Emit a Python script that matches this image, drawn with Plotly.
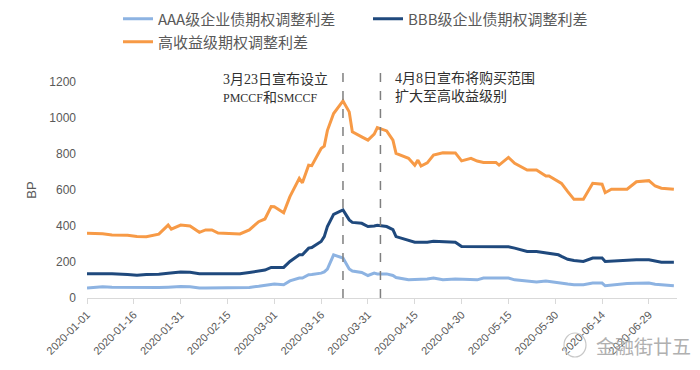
import plotly.graph_objects as go

dates = [
    "2020-01-01", "2020-01-06", "2020-01-09", "2020-01-14", "2020-01-17", "2020-01-20",
    "2020-01-24", "2020-01-27", "2020-01-28", "2020-01-31", "2020-02-03", "2020-02-06",
    "2020-02-08", "2020-02-10", "2020-02-12", "2020-02-16", "2020-02-19", "2020-02-22",
    "2020-02-25", "2020-02-27", "2020-02-29", "2020-03-01", "2020-03-04", "2020-03-06",
    "2020-03-09", "2020-03-10", "2020-03-12", "2020-03-13", "2020-03-16", "2020-03-17",
    "2020-03-18", "2020-03-20", "2020-03-23", "2020-03-25", "2020-03-26", "2020-03-29",
    "2020-03-31", "2020-04-02", "2020-04-03", "2020-04-06", "2020-04-08", "2020-04-09",
    "2020-04-13", "2020-04-15", "2020-04-16", "2020-04-17", "2020-04-19", "2020-04-21",
    "2020-04-24", "2020-04-28", "2020-04-30", "2020-05-03", "2020-05-05", "2020-05-07",
    "2020-05-11", "2020-05-12", "2020-05-15", "2020-05-17", "2020-05-21", "2020-05-24",
    "2020-05-27", "2020-05-28", "2020-05-31", "2020-06-01", "2020-06-03", "2020-06-05",
    "2020-06-08", "2020-06-11", "2020-06-14", "2020-06-15", "2020-06-17", "2020-06-22",
    "2020-06-25", "2020-06-29", "2020-07-01", "2020-07-03", "2020-07-07",
]

hy = [
    360, 357, 350, 348, 342, 340,
    355, 405, 382, 405, 400, 365,
    378, 378, 361, 356, 356, 378,
    424, 439, 508, 507, 474, 563,
    665, 640, 738, 735, 831, 844,
    930, 1025, 1095, 1034, 923, 895,
    877, 910, 947, 928, 877, 803,
    776, 738, 766, 733, 751, 794,
    807, 806, 762, 776, 761, 753,
    753, 738, 781, 748, 711, 711,
    678, 678, 650, 637, 591, 548,
    548, 637, 632, 585, 604, 604,
    646, 652, 622, 610, 604,
]

bbb = [
    135, 135, 135, 130, 127, 130,
    132, 138, 140, 145, 143, 135,
    135, 135, 135, 135, 135, 142,
    150, 155, 170, 170, 170, 203,
    240, 240, 277, 280, 314, 341,
    397, 465, 489, 434, 420, 415,
    397, 400, 404, 397, 380, 341,
    319, 310, 310, 310, 310, 315,
    312, 310, 286, 286, 286, 286,
    285, 283, 285, 277, 258, 258,
    250, 245, 240, 231, 215, 208,
    203, 222, 222, 203, 205, 212,
    212, 212, 205, 199, 199,
]

aaa = [
    55, 62, 60, 58, 58, 58,
    58, 60, 62, 64, 62, 55,
    55, 55, 55, 55, 55, 59,
    65, 70, 79, 78, 74, 95,
    111, 111, 129, 130, 138, 145,
    161, 240, 222, 161, 150, 142,
    125, 138, 134, 134, 125, 114,
    101, 101, 101, 101, 105, 111,
    101, 106, 104, 101, 101, 111,
    111, 111, 111, 101, 92, 89,
    95, 92, 85, 83, 78, 74,
    74, 83, 83, 68, 72, 80,
    82, 83, 76, 72, 68,
]

series_names = ["AAA级企业债期权调整利差", "BBB级企业债期权调整利差", "高收益级期权调整利差"]
event_dates = ["2020-03-23", "2020-04-04"]
event_texts = [
    "3月23日宣布设立<br><span style='font-size:12px'>PMCCF</span>和<span style='font-size:12px'>SMCCF</span>",
    "4月8日宣布将购买范围<br>扩大至高收益级别",
]

colors = ["#8db3e2", "#1f497d", "#f79a46"]
legend_ids = ["legend", "legend", "legend2"]
grey = "#595959"

# plot-area geometry (pixels)
L, R, T, B = 87, 23, 82, 72
PW, PH = 700 - L - R, 370 - T - B


def px_x(x):
    return (x - L) / PW


def px_y(y):
    return (370 - B - y) / PH


fig = go.Figure()
for name, vals, c, lg in zip(series_names, [aaa, bbb, hy], colors, legend_ids):
    fig.add_trace(go.Scatter(x=dates, y=vals, mode="lines", name=name, legend=lg,
                             line=dict(color=c, width=3)))

for d in event_dates:
    fig.add_shape(type="line", xref="x", yref="paper", x0=d, x1=d, y0=0, y1=px_y(66),
                  line=dict(color="#7f7f7f", width=1.5, dash="dash"))

ann_font = dict(family="Liberation Serif, Noto Sans CJK SC", size=14, color="#303030")
fig.add_annotation(x=px_x(221), xref="paper", y=px_y(88), yref="paper", xanchor="left",
                   yanchor="middle", text=event_texts[0], showarrow=False, align="left",
                   font=ann_font)
fig.add_annotation(x=px_x(393), xref="paper", y=px_y(87), yref="paper", xanchor="left",
                   yanchor="middle", text=event_texts[1], showarrow=False, align="left",
                   font=ann_font)

# watermark
fig.add_annotation(x=px_x(693), xref="paper", y=px_y(345), yref="paper", text="金融街廿五",
                   showarrow=False, xanchor="right", yanchor="middle",
                   font=dict(family="Noto Sans CJK SC", size=19, color="#b0b0b0"))
fig.add_shape(type="circle", xref="paper", yref="paper",
              x0=px_x(564), x1=px_x(586), y0=px_y(357), y1=px_y(333),
              line=dict(color="#c8c8c8", width=1.2))

legend_common = dict(orientation="h", xanchor="left", yanchor="middle",
                     entrywidth=205, entrywidthmode="pixels",
                     font=dict(family="Noto Sans CJK SC", size=15, color=grey),
                     bgcolor="rgba(0,0,0,0)", traceorder="normal")

fig.update_layout(
    width=700, height=370,
    margin=dict(l=L, r=R, t=T, b=B, autoexpand=False),
    plot_bgcolor="white", paper_bgcolor="white",
    font=dict(family="Liberation Sans, Noto Sans CJK SC", color=grey),
    showlegend=True,
    legend=dict(x=px_x(118), y=px_y(19), **legend_common),
    legend2=dict(x=px_x(118), y=px_y(42), **legend_common),
    xaxis=dict(type="date", range=["2020-01-01", "2020-07-08"],
               tick0="2020-01-01", dtick=15 * 86400000, tickformat="%Y-%m-%d",
               tickangle=-45, showgrid=False, zeroline=False,
               showline=True, linecolor="#d9d9d9", linewidth=1,
               ticks="outside", ticklen=5, tickcolor="#d9d9d9",
               tickfont=dict(family="Liberation Sans", size=11, color=grey)),
    yaxis=dict(range=[0, 1200], dtick=200, showgrid=False, zeroline=False,
               showline=False, ticks="", ticklabelstandoff=10,
               tickfont=dict(family="Liberation Sans", size=12, color=grey),
               title=dict(text="BP", standoff=9,
                          font=dict(family="Liberation Sans", size=13, color=grey))),
)

fig.write_html("out.html", config={"displayModeBar": False},
               post_script="document.body.style.margin='0';document.body.style.padding='0';")
